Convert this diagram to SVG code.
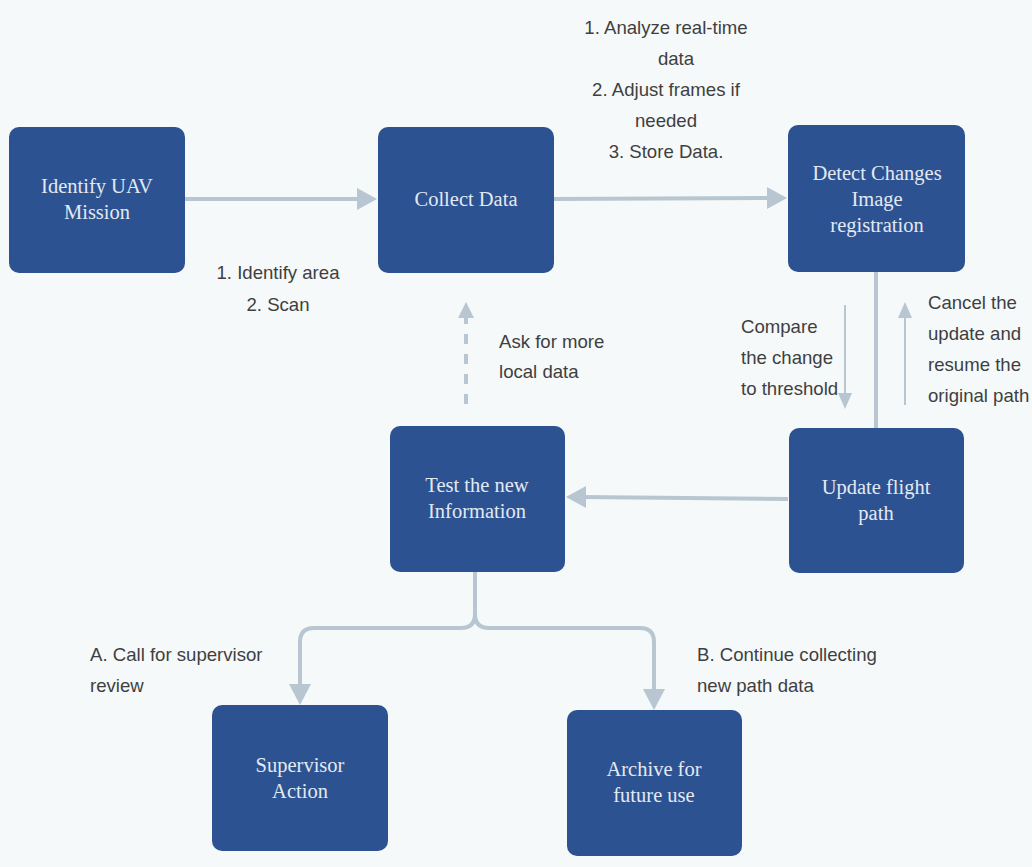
<svg xmlns="http://www.w3.org/2000/svg" width="1032" height="867" viewBox="0 0 1032 867">
<defs>
<style>
.box{fill:#2d5291;}
.nt{font-family:"Liberation Serif",serif;font-size:20.5px;fill:#e3e9f2;text-anchor:middle;}
.lb{font-family:"Liberation Sans Narrow","Liberation Sans",sans-serif;font-size:18.6px;fill:#3f3f3f;}
.c{fill:none;stroke:#b7c6d1;stroke-width:4;}
.thin{fill:none;stroke:#b7c6d1;stroke-width:2;}
.ah{fill:#b7c6d1;}
</style>
</defs>
<rect width="1032" height="867" fill="#f5f9fa"/>
<g id="connectors">
<line class="c" x1="185" y1="199" x2="362" y2="199"/>
<polygon class="ah" points="377,199 357,188 357,210"/>
<line class="c" x1="554" y1="199" x2="772" y2="198"/>
<polygon class="ah" points="787,198 767,187 767,209"/>
<line class="c" x1="876" y1="272" x2="876" y2="428"/>
<line class="thin" x1="845" y1="305" x2="845" y2="395"/>
<polygon class="ah" points="845,409 838,393 852,393"/>
<line class="thin" x1="905" y1="405" x2="905" y2="315"/>
<polygon class="ah" points="905,302 898,318 912,318"/>
<line class="c" x1="788" y1="499" x2="580" y2="497"/>
<polygon class="ah" points="566,497 586,486 586,508"/>
<line class="c" x1="466" y1="404" x2="466" y2="316" stroke-dasharray="10,10"/>
<polygon class="ah" points="466,302 458,318 474,318"/>
<path class="c" d="M475,572 V614 Q475,628 461,628 H314 Q300,628 300,642 V690"/>
<path class="c" d="M475,614 Q475,628 489,628 H640 Q654,628 654,642 V695"/>
<polygon class="ah" points="300,705 289,684 311,684"/>
<polygon class="ah" points="654,710 643,689 665,689"/>
</g>
<g id="n1"><rect class="box" x="9" y="127" width="176" height="146" rx="10"/><text class="nt" x="97" y="193">Identify UAV</text><text class="nt" x="97" y="219">Mission</text></g>
<g id="n2"><rect class="box" x="378" y="127" width="176" height="146" rx="10"/><text class="nt" x="466" y="206">Collect Data</text></g>
<g id="n3"><rect class="box" x="788" y="125" width="177" height="147" rx="10"/><text class="nt" x="877" y="180">Detect Changes</text><text class="nt" x="877" y="206">Image</text><text class="nt" x="877" y="232">registration</text></g>
<g id="n4"><rect class="box" x="789" y="428" width="175" height="145" rx="10"/><text class="nt" x="876" y="494">Update flight</text><text class="nt" x="876" y="520">path</text></g>
<g id="n5"><rect class="box" x="390" y="426" width="175" height="146" rx="10"/><text class="nt" x="477" y="492">Test the new</text><text class="nt" x="477" y="518">Information</text></g>
<g id="n6"><rect class="box" x="212" y="705" width="176" height="146" rx="10"/><text class="nt" x="300" y="772">Supervisor</text><text class="nt" x="300" y="798">Action</text></g>
<g id="n7"><rect class="box" x="567" y="710" width="175" height="146" rx="10"/><text class="nt" x="654" y="776">Archive for</text><text class="nt" x="654" y="802">future use</text></g>
<g id="labels">
<text class="lb" x="278" y="279" text-anchor="middle">1. Identify area</text>
<text class="lb" x="278" y="311" text-anchor="middle">2. Scan</text>
<text class="lb" x="666" y="34" text-anchor="middle">1. Analyze real-time</text>
<text class="lb" x="676" y="65" text-anchor="middle">data</text>
<text class="lb" x="666" y="96" text-anchor="middle">2. Adjust frames if</text>
<text class="lb" x="666" y="127" text-anchor="middle">needed</text>
<text class="lb" x="666" y="158" text-anchor="middle">3. Store Data.</text>
<text class="lb" x="741" y="333">Compare</text>
<text class="lb" x="741" y="364">the change</text>
<text class="lb" x="741" y="395">to threshold</text>
<text class="lb" x="928" y="309">Cancel the</text>
<text class="lb" x="928" y="340">update and</text>
<text class="lb" x="928" y="371">resume the</text>
<text class="lb" x="928" y="402">original path</text>
<text class="lb" x="499" y="348">Ask for more</text>
<text class="lb" x="499" y="378">local data</text>
<text class="lb" x="90" y="661">A. Call for supervisor</text>
<text class="lb" x="90" y="692">review</text>
<text class="lb" x="697" y="661">B. Continue collecting</text>
<text class="lb" x="697" y="692">new path data</text>
</g>
</svg>
